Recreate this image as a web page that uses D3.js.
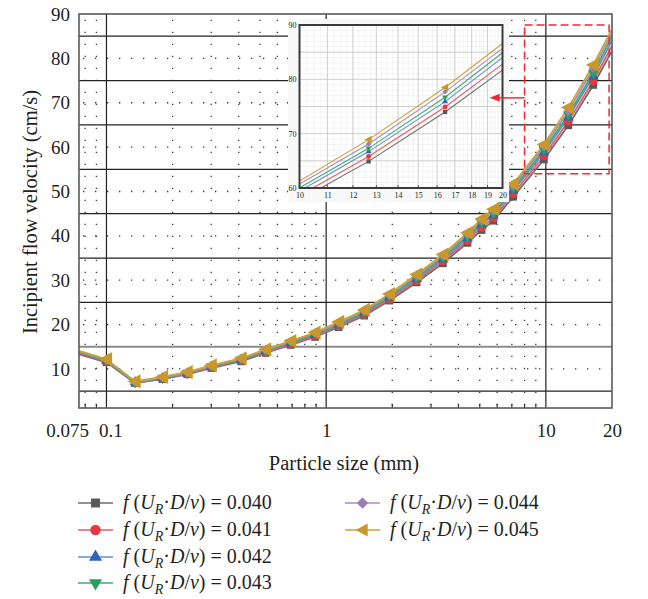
<!DOCTYPE html>
<html>
<head>
<meta charset="utf-8">
<title>Incipient flow velocity</title>
<style>
    body { margin: 0; background: #fff; }
    svg text { font-family: "Liberation Serif", "DejaVu Serif", serif; fill: #231f20; }
    .dots { stroke: #333; stroke-width: 1.3; stroke-dasharray: 1.3 10.7; }
    .solid { stroke: #222; stroke-width: 1.2; }
    .frame { fill: none; stroke: #5a5a5a; stroke-width: 1.6; }
    .inset-minor { stroke: #ececec; stroke-width: 0.6; }
    .inset-major { stroke: #c8c8c8; stroke-width: 0.8; }
</style>
</head>
<body>
<div id="chart"></div>
<script src="https://cdn.jsdelivr.net/npm/d3@7"></script>
<script>
// particle sizes (mm) and velocities (cm/s)
var sizes = [0.075, 0.1, 0.135, 0.18, 0.233, 0.30, 0.41, 0.53, 0.69, 0.89, 1.14, 1.49, 1.94, 2.58, 3.4, 4.4, 5.1, 5.77, 7.1, 9.8, 12.66, 16.44, 20];
var v040 = [13.3, 11.5, 6.8, 7.7, 8.8, 10.2, 11.7, 13.6, 15.4, 17.2, 19.4, 22.0, 25.4, 29.5, 33.8, 38.4, 41.3, 43.4, 48.8, 57.2, 64.9, 74.0, 81.7];
var v041 = [13.5, 11.7, 6.9, 7.8, 8.9, 10.3, 11.9, 13.8, 15.6, 17.4, 19.7, 22.3, 25.7, 29.9, 34.3, 38.9, 41.9, 44.0, 49.5, 58.0, 65.8, 74.9, 82.8];
var v042 = [13.7, 11.8, 7.0, 7.9, 9.0, 10.5, 12.0, 14.0, 15.8, 17.7, 19.9, 22.6, 26.1, 30.3, 34.7, 39.5, 42.5, 44.6, 50.2, 58.8, 66.7, 75.9, 84.0];
var v043 = [13.8, 11.9, 7.0, 8.0, 9.1, 10.6, 12.1, 14.1, 16.0, 17.9, 20.1, 22.8, 26.4, 30.6, 35.1, 39.9, 42.9, 45.0, 50.7, 59.4, 67.3, 76.7, 84.9];
var v044 = [14.0, 12.1, 7.1, 8.1, 9.2, 10.7, 12.3, 14.3, 16.2, 18.1, 20.4, 23.1, 26.7, 31.0, 35.5, 40.3, 43.4, 45.6, 51.2, 60.1, 68.1, 77.7, 85.7];
var v045 = [14.1, 12.2, 7.2, 8.2, 9.3, 10.8, 12.4, 14.4, 16.3, 18.2, 20.6, 23.3, 26.9, 31.3, 35.8, 40.7, 43.8, 46.0, 51.7, 60.6, 68.9, 78.5, 86.6];
var fValues = ['0.040', '0.041', '0.042', '0.043', '0.044', '0.045'];

var xTicks = [0.075, 0.1, 1, 10, 20];
var xMajor = [0.1, 1, 10];
var xMinor = [0.08, 0.09, 0.2, 0.3, 0.4, 0.5, 0.6, 0.7, 0.8, 0.9, 2, 3, 4, 5, 6, 7, 8, 9];
var yTicks = [10, 20, 30, 40, 50, 60, 70, 80, 90];
var yBands = [5, 15, 25, 35, 45, 55, 65, 75, 85];
var insetXTicks = [10, 11, 12, 13, 14, 15, 16, 17, 18, 19, 20];
var insetYTicks = [60, 70, 80, 90];

var svg = d3.select('#chart').append('svg')
    .attr('width', 648)
    .attr('height', 599);

var pL = 79, pR = 612, pT = 14, pB = 408;
var x = d3.scaleLog().domain([0.075, 20]).range([pL, pR]);
var y = d3.scaleLinear().domain([1.2, 90]).range([pB, pT]);

var leftTri = {draw: function (ctx, s) {
    var r = Math.sqrt(s / 1.3);
    ctx.moveTo(-r, 0); ctx.lineTo(r * 0.75, -r * 0.95); ctx.lineTo(r * 0.75, r * 0.95); ctx.closePath();
}};

var series = [
    {f: fValues[0], values: v040, line: '#6d6e71', fill: '#58595b', symbol: d3.symbolSquare, rot: 0, size: 58, leg: 80},
    {f: fValues[1], values: v041, line: '#ec5a60', fill: '#e8383f', symbol: d3.symbolCircle, rot: 0, size: 60, leg: 85},
    {f: fValues[2], values: v042, line: '#5f8fcf', fill: '#2f66b3', symbol: d3.symbolTriangle, rot: 0, size: 50, leg: 75},
    {f: fValues[3], values: v043, line: '#3fae6c', fill: '#27a05a', symbol: d3.symbolTriangle, rot: 180, size: 50, leg: 75},
    {f: fValues[4], values: v044, line: '#a78dc2', fill: '#9b7bb8', symbol: d3.symbolSquare, rot: 45, size: 46, leg: 65},
    {f: fValues[5], values: v045, line: '#cda238', fill: '#c9982a', symbol: leftTri, rot: 0, size: 72, leg: 62}
];

svg.append('clipPath').attr('id', 'plot-clip')
    .append('rect').attr('x', pL).attr('y', pT).attr('width', pR - pL).attr('height', pB - pT);

// dotted grid
var grid = svg.append('g');
grid.selectAll('line.vdot').data(xMinor).enter().append('line')
    .attr('class', 'dots')
    .attr('x1', function (d) { return x(d); }).attr('x2', function (d) { return x(d); })
    .attr('y1', pB - 3).attr('y2', pT);
grid.selectAll('line.hdot').data(yTicks.slice(0, -1)).enter().append('line')
    .attr('class', 'dots')
    .attr('x1', pL + 4).attr('x2', pR)
    .attr('y1', function (d) { return y(d); }).attr('y2', function (d) { return y(d); });

// solid lines
grid.selectAll('line.hband').data(yBands).enter().append('line')
    .attr('class', 'solid')
    .attr('x1', pL).attr('x2', pR)
    .attr('y1', function (d) { return y(d); }).attr('y2', function (d) { return y(d); })
    .style('stroke', function (d) { return d === 15 ? '#8a8a8a' : null; })
    .style('stroke-width', function (d) { return d === 15 ? 1.8 : null; });
grid.selectAll('line.vmajor').data(xMajor).enter().append('line')
    .attr('class', 'solid')
    .attr('x1', function (d) { return x(d); }).attr('x2', function (d) { return x(d); })
    .attr('y1', pB).attr('y2', pT);

// minor ticks, bottom
grid.selectAll('line.tick').data(xMinor).enter().append('line')
    .attr('stroke', '#333').attr('stroke-width', 1.2)
    .attr('x1', function (d) { return x(d); }).attr('x2', function (d) { return x(d); })
    .attr('y1', pB).attr('y2', pB - 4);

// series lines
var line = d3.line()
    .x(function (d) { return x(d[0]); })
    .y(function (d) { return y(d[1]); });

var gLines = svg.append('g').attr('clip-path', 'url(#plot-clip)');
series.forEach(function (s) {
    gLines.append('path')
        .datum(d3.zip(sizes, s.values))
        .attr('fill', 'none')
        .attr('stroke', s.line)
        .attr('stroke-width', 1.8)
        .attr('d', line);
});

var gMarks = svg.append('g');
series.forEach(function (s) {
    var sym = d3.symbol().type(s.symbol).size(s.size);
    gMarks.selectAll(null)
        .data(d3.zip(sizes, s.values).slice(1, -1))
        .enter().append('path')
        .attr('d', sym)
        .attr('fill', s.fill)
        .attr('transform', function (d) {
            return 'translate(' + x(d[0]) + ',' + y(d[1]) + ') rotate(' + s.rot + ')';
        });
});

svg.append('rect').attr('class', 'frame')
    .attr('x', pL).attr('y', pT).attr('width', pR - pL).attr('height', pB - pT);

// axes labels
var xAxis = svg.append('g')
    .attr('transform', 'translate(0,' + pB + ')')
    .call(d3.axisBottom(x).tickValues(xTicks).tickFormat(d3.format('')).tickSize(0).tickPadding(16));
xAxis.select('.domain').remove();
xAxis.selectAll('text')
    .style('font-size', '19px')
    .attr('dx', function (d) { return d === 0.075 ? -12 : d === 0.1 ? 4 : 0; });

var yAxis = svg.append('g')
    .attr('transform', 'translate(' + pL + ',0)')
    .call(d3.axisLeft(y).tickValues(yTicks).tickSize(0).tickPadding(9));
yAxis.select('.domain').remove();
yAxis.selectAll('text').style('font-size', '19px');

svg.append('text')
    .attr('x', 344).attr('y', 470)
    .attr('text-anchor', 'middle')
    .style('font-size', '20.5px')
    .text('Particle size (mm)');

svg.append('text')
    .attr('transform', 'translate(37,212) rotate(-90)')
    .attr('text-anchor', 'middle')
    .style('font-size', '20.5px')
    .text('Incipient flow velocity (cm/s)');

// inset
var xi = d3.scaleLog().domain([10, 20]).range([299.5, 502.5]);
var yi = d3.scaleLinear().domain([60, 90]).range([188, 25]);
var gIn = svg.append('g');
gIn.append('rect').attr('x', 288).attr('y', 19).attr('width', 221).attr('height', 183)
    .attr('fill', '#f8f8f8');
gIn.append('rect').attr('x', 299.5).attr('y', 25).attr('width', 203).attr('height', 163)
    .attr('fill', '#fff');
gIn.append('clipPath').attr('id', 'inset-clip')
    .append('rect').attr('x', 299.5).attr('y', 25).attr('width', 203).attr('height', 163);

gIn.selectAll('line.ivm').data(d3.range(10, 20, 0.25)).enter().append('line')
    .attr('class', 'inset-minor')
    .attr('x1', function (d) { return xi(d); }).attr('x2', function (d) { return xi(d); })
    .attr('y1', 25).attr('y2', 188);
gIn.selectAll('line.ihm').data(d3.range(60, 90, 1)).enter().append('line')
    .attr('class', 'inset-minor')
    .attr('x1', 299.5).attr('x2', 502.5)
    .attr('y1', function (d) { return yi(d); }).attr('y2', function (d) { return yi(d); });
gIn.selectAll('line.ivM').data(insetXTicks).enter().append('line')
    .attr('class', 'inset-major')
    .attr('x1', function (d) { return xi(d); }).attr('x2', function (d) { return xi(d); })
    .attr('y1', 25).attr('y2', 188);
gIn.selectAll('line.ihM').data(d3.range(60, 91, 5)).enter().append('line')
    .attr('class', 'inset-major')
    .attr('x1', 299.5).attr('x2', 502.5)
    .attr('y1', function (d) { return yi(d); }).attr('y2', function (d) { return yi(d); });

var lineIn = d3.line()
    .x(function (d) { return xi(d[0]); })
    .y(function (d) { return yi(d[1]); });
var gInLines = gIn.append('g').attr('clip-path', 'url(#inset-clip)');
series.forEach(function (s) {
    gInLines.append('path')
        .datum(d3.zip(sizes, s.values))
        .attr('fill', 'none')
        .attr('stroke', s.line)
        .attr('stroke-width', 1.1)
        .attr('d', lineIn);
});
series.forEach(function (s) {
    var sym = d3.symbol().type(s.symbol).size(s.size * 0.32);
    gIn.selectAll(null)
        .data(d3.zip(sizes, s.values).slice(1, -1).filter(function (d) { return d[0] > 10 && d[0] < 20; }))
        .enter().append('path')
        .attr('d', sym)
        .attr('fill', s.fill)
        .attr('transform', function (d) {
            return 'translate(' + xi(d[0]) + ',' + yi(d[1]) + ') rotate(' + s.rot + ')';
        });
});
gIn.selectAll('line.iticks').data(insetXTicks).enter().append('line')
    .attr('stroke', '#333').attr('stroke-width', 0.8)
    .attr('x1', function (d) { return xi(d); }).attr('x2', function (d) { return xi(d); })
    .attr('y1', 188).attr('y2', 185);
gIn.append('rect')
    .attr('x', 299.5).attr('y', 25).attr('width', 203).attr('height', 163)
    .attr('fill', 'none').attr('stroke', '#3a3a3a').attr('stroke-width', 2);

var xiAxis = gIn.append('g')
    .attr('transform', 'translate(0,188)')
    .call(d3.axisBottom(xi).tickValues(insetXTicks).tickFormat(d3.format('')).tickSize(0).tickPadding(4));
xiAxis.select('.domain').remove();
xiAxis.selectAll('text').style('font-size', '8px');
var yiAxis = gIn.append('g')
    .attr('transform', 'translate(299.5,0)')
    .call(d3.axisLeft(yi).tickValues(insetYTicks).tickSize(0).tickPadding(3));
yiAxis.select('.domain').remove();
yiAxis.selectAll('text').style('font-size', '8px');

// zoom box and arrow, drawn over the inset
svg.append('rect')
    .attr('x', x(8)).attr('y', y(87.5))
    .attr('width', x(19.4) - x(8)).attr('height', y(54) - y(87.5))
    .attr('fill', 'none').attr('stroke', '#ee2a35').attr('stroke-width', 1.5)
    .attr('stroke-dasharray', '8 4');
var ay = y(71.1);
svg.append('line')
    .attr('x1', x(8)).attr('x2', x(5.55) + 8).attr('y1', ay).attr('y2', ay)
    .attr('stroke', '#ee2a35').attr('stroke-width', 1.5);
svg.append('path')
    .attr('d', 'M' + x(5.55) + ',' + ay + 'l10,-4l0,8z')
    .attr('fill', '#ee2a35');

// legend
var legendPos = [[78, 503], [78, 530], [78, 557], [78, 583], [345, 503], [345, 530]];
var gLeg = svg.append('g');
series.forEach(function (s, i) {
    var p = legendPos[i];
    var g = gLeg.append('g').attr('transform', 'translate(' + p[0] + ',' + p[1] + ')');
    g.append('line').attr('x1', 0).attr('x2', 35).attr('y1', 0).attr('y2', 0)
        .attr('stroke', s.line).attr('stroke-width', 1.6);
    g.append('path')
        .attr('d', d3.symbol().type(s.symbol).size(s.leg))
        .attr('fill', s.fill)
        .attr('transform', 'translate(17.5,0) rotate(' + s.rot + ')');
    var t = g.append('text').attr('x', 45).attr('y', 6).style('font-size', '20px');
    t.append('tspan').style('font-style', 'italic').text('f');
    t.append('tspan').text(' (');
    t.append('tspan').style('font-style', 'italic').text('U');
    t.append('tspan').style('font-style', 'italic').style('font-size', '14px').attr('dy', 5).text('R');
    t.append('tspan').attr('dy', -5).text('\u00b7');
    t.append('tspan').style('font-style', 'italic').text('D');
    t.append('tspan').text('/');
    t.append('tspan').style('font-style', 'italic').text('\u03bd');
    t.append('tspan').text(') = ' + s.f);
});
</script>
</body>
</html>
